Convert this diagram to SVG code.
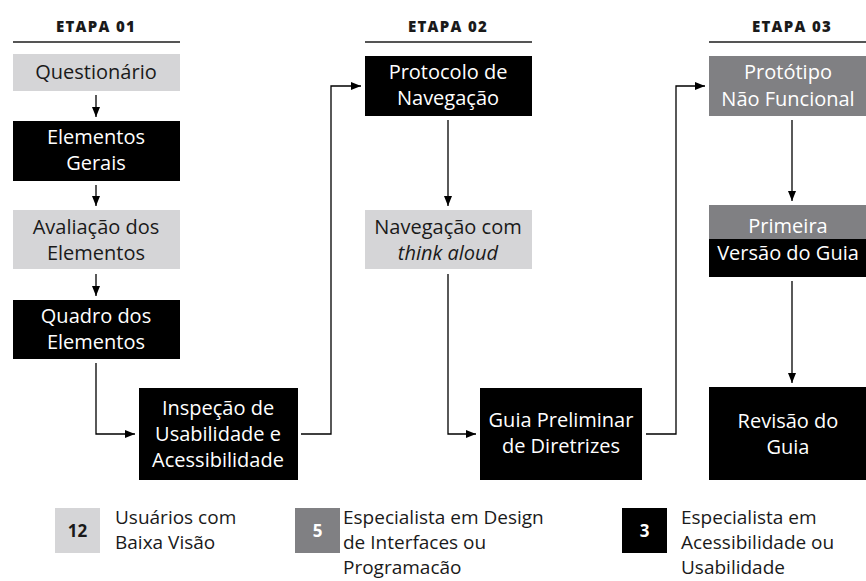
<svg xmlns="http://www.w3.org/2000/svg" width="866" height="581" viewBox="0 0 866 581">
<defs>
<marker id="ah" markerUnits="userSpaceOnUse" markerWidth="10" markerHeight="8" refX="10" refY="4" orient="auto">
<path d="M0,0 L10,4 L0,8 z" fill="#000"/>
</marker>
<style>
.hd{font-family:"Open Sans","Liberation Sans",sans-serif;font-weight:800;font-size:15px;letter-spacing:1.3px;fill:#1a1a1a;text-anchor:middle}
.hl{stroke:#555;stroke-width:2}
.t{font-family:"Open Sans","Liberation Sans",sans-serif;font-size:20px;text-anchor:middle}
.dk{fill:#1a1a1a}
.wt{fill:#fff}
.lg{font-family:"Open Sans","Liberation Sans",sans-serif;font-size:19px;fill:#1a1a1a}
.num{font-family:"Open Sans","Liberation Sans",sans-serif;font-size:17px;font-weight:700;text-anchor:middle}
.light{fill:#d5d5d7}
.mid{fill:#808083}
.blk{fill:#000}
.c{fill:none;stroke:#000;stroke-width:1.3;marker-end:url(#ah)}
</style>
</defs>
<g id="headers">
<text class="hd" x="96" y="32">ETAPA 01</text>
<line class="hl" x1="13" y1="42" x2="180" y2="42"/>
<text class="hd" x="448" y="32">ETAPA 02</text>
<line class="hl" x1="365" y1="42" x2="532" y2="42"/>
<text class="hd" x="792" y="32">ETAPA 03</text>
<line class="hl" x1="709" y1="42" x2="866" y2="42"/>
</g>
<g id="questionario"><rect class="light" x="13" y="54" width="167" height="37"/><text class="t dk" x="96" y="79">Questionário</text></g>
<g id="elementos-gerais"><rect class="blk" x="13" y="121" width="167" height="60"/><text class="t wt" x="96" y="144">Elementos</text><text class="t wt" x="96" y="170">Gerais</text></g>
<g id="avaliacao"><rect class="light" x="13" y="210" width="167" height="59"/><text class="t dk" x="96" y="234">Avaliação dos</text><text class="t dk" x="96" y="260">Elementos</text></g>
<g id="quadro"><rect class="blk" x="13" y="300" width="167" height="59"/><text class="t wt" x="96" y="323">Quadro dos</text><text class="t wt" x="96" y="349">Elementos</text></g>
<g id="inspecao"><rect class="blk" x="139" y="388" width="159" height="92"/><text class="t wt" x="218" y="415">Inspeção de</text><text class="t wt" x="218" y="441">Usabilidade e</text><text class="t wt" x="218" y="467">Acessibilidade</text></g>
<g id="protocolo"><rect class="blk" x="365" y="56" width="167" height="60"/><text class="t wt" x="448" y="79">Protocolo de</text><text class="t wt" x="448" y="105">Navegação</text></g>
<g id="navegacao"><rect class="light" x="365" y="210" width="167" height="59"/><text class="t dk" x="448" y="234">Navegação com</text><text class="t dk" x="448" y="260" font-style="italic">think aloud</text></g>
<g id="guia-preliminar"><rect class="blk" x="480" y="388" width="162" height="92"/><text class="t wt" x="561" y="427">Guia Preliminar</text><text class="t wt" x="561" y="453">de Diretrizes</text></g>
<g id="prototipo"><rect class="mid" x="709" y="56" width="157" height="60"/><text class="t wt" x="788" y="79">Protótipo</text><text class="t wt" x="788" y="106">Não Funcional</text></g>
<g id="primeira-versao"><rect class="mid" x="709" y="205" width="157" height="34"/><rect class="blk" x="709" y="239" width="157" height="38"/><text class="t wt" x="788" y="233">Primeira</text><text class="t wt" x="788" y="260">Versão do Guia</text></g>
<g id="revisao"><rect class="blk" x="709" y="387" width="157" height="93"/><text class="t wt" x="788" y="428">Revisão do</text><text class="t wt" x="788" y="454">Guia</text></g>
<g id="connectors">
<path class="c" d="M96,95 V117"/>
<path class="c" d="M96,185 V206"/>
<path class="c" d="M96,274 V296"/>
<path class="c" d="M96,363 V434 H135"/>
<path class="c" d="M301,434 H331 V86 H361"/>
<path class="c" d="M448,120 V206"/>
<path class="c" d="M448,274 V434 H476"/>
<path class="c" d="M646,434 H676 V86 H705"/>
<path class="c" d="M792,120 V201"/>
<path class="c" d="M792,281 V383"/>
</g>
<g id="legend">
<g id="legend-12"><rect class="light" x="55" y="508" width="45" height="45"/><text class="num dk" x="77.5" y="537">12</text><text class="lg" x="115" y="524">Usuários com</text><text class="lg" x="115" y="549">Baixa Visão</text></g>
<g id="legend-5"><rect class="mid" x="295" y="508" width="45" height="45"/><text class="num wt" x="317.5" y="537">5</text><text class="lg" x="343" y="524">Especialista em Design</text><text class="lg" x="343" y="549">de Interfaces ou</text><text class="lg" x="343" y="574">Programacão</text></g>
<g id="legend-3"><rect class="blk" x="622" y="508" width="45" height="45"/><text class="num wt" x="644.5" y="537">3</text><text class="lg" x="681" y="524">Especialista em</text><text class="lg" x="681" y="549">Acessibilidade ou</text><text class="lg" x="681" y="574">Usabilidade</text></g>
</g>
</svg>
